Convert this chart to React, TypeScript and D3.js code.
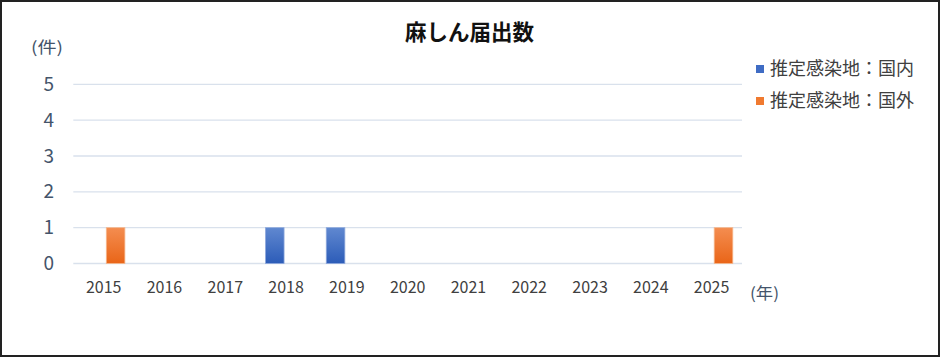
import React from "react";
import * as d3 from "d3";

const years = ["2015","2016","2017","2018","2019","2020","2021","2022","2023","2024","2025"];
const domestic = [0,0,0,1,1,0,0,0,0,0,0];
const imported = [1,0,0,0,0,0,0,0,0,0,1];
const yTicks = [0,1,2,3,4,5];
const seriesNames = ["推定感染地：国内","推定感染地：国外"];
const title = "麻しん届出数";

const W = 940, H = 357;
const FONT = "'Noto Sans CJK JP', 'Noto Sans', sans-serif";

export default function App() {
  const x = d3.scaleBand<string>().domain(years).range([73.3, 742]).padding(0);
  const y = d3.scaleLinear().domain([0, 5]).range([263.5, 84.3]);
  const bw = 18.6;
  const series = [
    { values: domestic, off: -20.6, grad: "gBlue", stroke: "#8fa9dc" },
    { values: imported, off: 2.6, grad: "gOrange", stroke: "#f6b88e" },
  ];
  return (
    <svg width={W} height={H} style={{ position: "absolute", left: 0, top: 0 }} fontFamily={FONT}>
      <defs>
        <linearGradient id="gBlue" x1="0" y1="0" x2="0" y2="1">
          <stop offset="0" stopColor="#6088d0" />
          <stop offset="1" stopColor="#2c5cb8" />
        </linearGradient>
        <linearGradient id="gOrange" x1="0" y1="0" x2="0" y2="1">
          <stop offset="0" stopColor="#f48d50" />
          <stop offset="1" stopColor="#e96518" />
        </linearGradient>
      </defs>
      <rect x={1} y={1} width={W - 2} height={H - 2} fill="#fff" stroke="#222" strokeWidth={2} />
      <text x={469.5} y={40} textAnchor="middle" fontSize={21.5} fontWeight="bold" fill="#111">{title}</text>
      <text x={31} y={53} fontSize={16} fill="#44546a" textLength={32} lengthAdjust="spacingAndGlyphs">(件)</text>
      {yTicks.map((t) => (
        <g key={t}>
          <line x1={73.3} x2={742} y1={y(t)} y2={y(t)} stroke="#d9e1ec" strokeWidth={1.3} />
          <text x={54} y={y(t)} dy="0.35em" textAnchor="end" fontSize={19} fill="#44546a">{t}</text>
        </g>
      ))}
      {series.map((s, si) =>
        s.values.map((v, i) =>
          v > 0 ? (
            <rect key={si + "-" + i}
              x={(x(years[i]) as number) + x.bandwidth() / 2 + s.off}
              y={y(v)} width={bw} height={y(0) - y(v)}
              fill={`url(#${s.grad})`} stroke={s.stroke} strokeWidth={0.8} />
          ) : null
        )
      )}
      {years.map((yr) => (
        <text key={yr} x={(x(yr) as number) + x.bandwidth() / 2} y={293} textAnchor="middle" fontSize={16} fill="#404040">{yr}</text>
      ))}
      <text x={750} y={299} fontSize={16} fill="#44546a" textLength={29} lengthAdjust="spacingAndGlyphs">(年)</text>
      {seriesNames.map((n, i) => (
        <g key={n}>
          <rect x={756} y={65 + i * 32} width={8} height={8} fill={i === 0 ? "#3f6cc4" : "#f07a30"} />
          <text x={770} y={69 + i * 32} dy="0.36em" fontSize={18} fill="#404040">{n}</text>
        </g>
      ))}
    </svg>
  );
}
